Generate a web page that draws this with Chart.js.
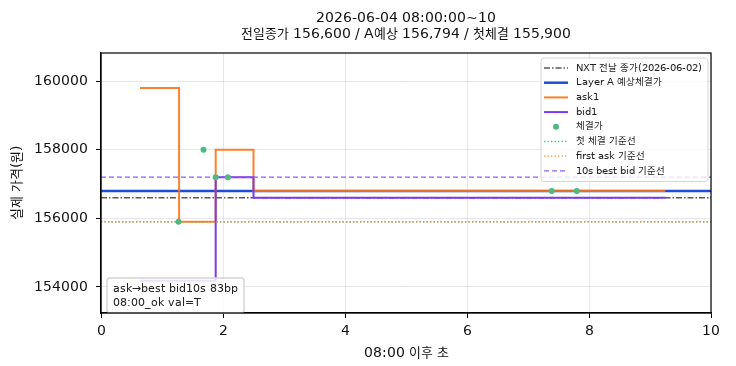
<!DOCTYPE html>
<html>
<head>
<meta charset="utf-8">
<script src="https://cdn.jsdelivr.net/npm/chart.js@4.4.1/dist/chart.umd.min.js"></script>
<style>
  /* Latin glyphs from DejaVu Sans, Hangul from Noto CJK slightly shrunk */
  @font-face {
    font-family: 'MixKR';
    src: local('DejaVu Sans'), local('DejaVuSans');
    unicode-range: U+0000-024F, U+2000-21FF;
  }
  @font-face {
    font-family: 'MixKR';
    src: local('Noto Sans CJK KR'), local('Noto Sans CJK KR Regular'), local('NotoSansCJKkr-Regular');
    unicode-range: U+1100-11FF, U+3130-318F, U+AC00-D7AF;
    size-adjust: 92%;
  }
  html, body { margin: 0; padding: 0; background: #fff; }
  #wrap { width: 736px; height: 366px; }
</style>
</head>
<body>
<div id="wrap"><canvas id="c" width="736" height="366"></canvas></div>
<script>
// ── Data ────────────────────────────────────────────────────────────────────
const TITLE_LINES = ['2026-06-04 08:00:00~10', '전일종가 156,600 / A예상 156,794 / 첫체결 155,900'];

const ASK_X = [0.64, 1.28, 1.88, 2.50, 9.25];
const ASK_Y = [159800, 155900, 158000, 156800, 156800];

const BID_X = [0.64, 1.88, 2.50, 9.25];
const BID_Y = [154180, 157200, 156600, 156600];

const TRADE_X = [1.27, 1.68, 1.88, 2.08, 7.39, 7.80];
const TRADE_Y = [155900, 158000, 157200, 157200, 156800, 156800];

const NXT_CLOSE    = 156600;
const LAYER_A      = 156794;
const FIRST_TRADE  = 155900;
const FIRST_ASK    = 155900;
const BEST_BID_10S = 157200;

const X_TICKS = [0, 2, 4, 6, 8, 10];
const Y_TICKS = [154000, 156000, 158000, 160000];

const NOTE_LINES = ['ask→best bid10s 83bp', '08:00_ok val=T'];

// ── Styles ──────────────────────────────────────────────────────────────────
const FONT = '"MixKR", "DejaVu Sans", "Noto Sans CJK KR", sans-serif';
const C = {
  nxt:   '#555b61',
  layer: '#1d4ed8',
  ask:   'rgba(249,115,22,0.9)',
  bid:   '#7c3aed',
  trade: '#4cbb7f',
  grid:  'rgba(0,0,0,0.09)',
};

const pts   = (xs, ys) => xs.map((x, i) => ({ x, y: ys[i] }));
const hline = y => [{ x: 0, y }, { x: 10, y }];

const LEGEND_ITEMS = [
  { label: 'NXT 전날 종가(2026-06-02)', color: C.nxt,     width: 1.5, dash: [6, 2, 1.5, 2] },
  { label: 'Layer A 예상체결가',        color: C.layer,   width: 2.5, dash: [] },
  { label: 'ask1',                      color: C.ask,     width: 2,   dash: [] },
  { label: 'bid1',                      color: C.bid,     width: 2,   dash: [] },
  { label: '체결가',                    color: C.trade,   dot: true },
  { label: '첫 체결 기준선',            color: C.trade,   width: 1.3, dash: [1.3, 2.2] },
  { label: 'first ask 기준선',          color: '#f28a3c', width: 1.3, dash: [1.3, 2.2] },
  { label: '10s best bid 기준선',       color: '#8b5cf6', width: 1.4, dash: [5, 3] },
];

// ── Plugins: frame, legend box, note box ────────────────────────────────────
function roundBox(ctx, x, y, w, h, r) {
  ctx.beginPath();
  ctx.moveTo(x + r, y);
  ctx.arcTo(x + w, y, x + w, y + h, r);
  ctx.arcTo(x + w, y + h, x, y + h, r);
  ctx.arcTo(x, y + h, x, y, r);
  ctx.arcTo(x, y, x + w, y, r);
  ctx.closePath();
}

const overlayPlugin = {
  id: 'overlay',
  afterDraw(chart) {
    const { ctx, chartArea: a } = chart;
    ctx.save();

    // legend (upper right)
    ctx.font = `10.3px ${FONT}`;
    const textW = Math.max(...LEGEND_ITEMS.map(it => ctx.measureText(it.label).width));
    const rowH = 14.7;
    const lw = 35 + textW + 6;
    const lh = rowH * LEGEND_ITEMS.length + 6;
    const lx = a.right - 3 - lw;
    const ly = a.top + 5;
    roundBox(ctx, lx, ly, lw, lh, 3);
    ctx.fillStyle = 'rgba(255,255,255,0.82)';
    ctx.fill();
    ctx.strokeStyle = '#d4d4d4';
    ctx.lineWidth = 1;
    ctx.stroke();

    LEGEND_ITEMS.forEach((it, i) => {
      const cy = ly + 10 + i * rowH;
      if (it.dot) {
        ctx.beginPath();
        ctx.arc(lx + 15, cy, 3, 0, Math.PI * 2);
        ctx.fillStyle = it.color;
        ctx.fill();
      } else {
        ctx.beginPath();
        ctx.setLineDash(it.dash);
        ctx.lineWidth = it.width;
        ctx.strokeStyle = it.color;
        ctx.moveTo(lx + 3, cy);
        ctx.lineTo(lx + 27, cy);
        ctx.stroke();
        ctx.setLineDash([]);
      }
      ctx.fillStyle = '#222';
      ctx.textBaseline = 'middle';
      ctx.textAlign = 'left';
      ctx.fillText(it.label, lx + 35, cy);
    });

    // note box (lower left)
    ctx.font = `11.2px ${FONT}`;
    const noteW = Math.max(...NOTE_LINES.map(t => ctx.measureText(t).width)) + 12;
    const nx = a.left + 6;
    const nh = 35;
    const ny = a.bottom - nh;
    roundBox(ctx, nx, ny, noteW, nh, 3);
    ctx.fillStyle = 'rgba(255,255,255,0.85)';
    ctx.fill();
    ctx.strokeStyle = '#d4d4d4';
    ctx.stroke();
    ctx.fillStyle = '#222';
    NOTE_LINES.forEach((t, i) => ctx.fillText(t, nx + 6, ny + 11 + i * 14));

    // axes frame
    ctx.strokeStyle = '#000';
    ctx.lineWidth = 1.2;
    ctx.strokeRect(a.left, a.top, a.right - a.left, a.bottom - a.top);
    ctx.restore();
  },
};

// ── Chart ───────────────────────────────────────────────────────────────────
const line = (label, data, color, width, dash, order, extra = {}) => ({
  type: 'line', label, data, borderColor: color, borderWidth: width,
  borderDash: dash, pointRadius: 0, fill: false, order, ...extra,
});

function draw() {
  new Chart(document.getElementById('c'), {
    data: {
      datasets: [
        { type: 'scatter', label: '체결가', data: pts(TRADE_X, TRADE_Y),
          backgroundColor: C.trade, borderWidth: 0, pointRadius: 3, order: 0 },
        line('10s best bid 기준선', hline(BEST_BID_10S), '#8b5cf6', 1.4, [5, 3], 1),
        line('first ask 기준선', hline(FIRST_ASK), '#f28a3c', 1.3, [1.3, 2.2], 2),
        line('첫 체결 기준선', hline(FIRST_TRADE), C.trade, 1.3, [1.3, 2.2], 3),
        line('bid1', pts(BID_X, BID_Y), C.bid, 2, [], 4, { stepped: 'before' }),
        line('ask1', pts(ASK_X, ASK_Y), C.ask, 2, [], 5, { stepped: 'before' }),
        line('Layer A 예상체결가', hline(LAYER_A), C.layer, 2.5, [], 6),
        line('NXT 전날 종가(2026-06-02)', hline(NXT_CLOSE), C.nxt, 1.5, [6, 2, 1.5, 2], 7),
      ],
    },
    options: {
      responsive: false,
      animation: false,
      layout: { padding: { left: 0, right: 25, top: 0, bottom: 0 } },
      plugins: {
        legend: { display: false },
        tooltip: { enabled: false },
        title: {
          display: true,
          fullSize: false,
          text: TITLE_LINES,
          color: '#111',
          font: { family: FONT, size: 14, weight: 'normal', lineHeight: 1.15 },
          padding: { top: 10, bottom: 10.8 },
        },
      },
      scales: {
        x: {
          type: 'linear',
          min: 0, max: 10,
          afterBuildTicks: s => { s.ticks = X_TICKS.map(v => ({ value: v })); },
          afterFit: s => { s.height = 53; },
          ticks: { color: '#111', font: { family: FONT, size: 14 }, padding: 5,
                   callback: v => String(v) },
          grid: { color: C.grid, tickColor: '#000', tickLength: 5 },
          border: { color: '#000', width: 1.2 },
          title: { display: true, text: '08:00 이후 초', color: '#111',
                   font: { family: FONT, size: 14 }, padding: { top: 0, bottom: 4 } },
        },
        y: {
          type: 'linear',
          min: 153240, max: 160820,
          afterBuildTicks: s => { s.ticks = Y_TICKS.map(v => ({ value: v })); },
          afterFit: s => { s.width = 101; },
          ticks: { color: '#111', font: { family: FONT, size: 14 }, padding: 8,
                   callback: v => String(v) },
          grid: { color: C.grid, tickColor: '#000', tickLength: 5 },
          border: { color: '#000', width: 1.2 },
          title: { display: true, text: '실제 가격(원)', color: '#111',
                   font: { family: FONT, size: 14 }, padding: { top: 9, bottom: 0 } },
        },
      },
    },
    plugins: [overlayPlugin],
  });
}

Promise.all([
  document.fonts.load(`14px MixKR`, 'A0'),
  document.fonts.load(`14px MixKR`, '가'),
]).catch(() => {}).then(draw);
</script>
</body>
</html>
